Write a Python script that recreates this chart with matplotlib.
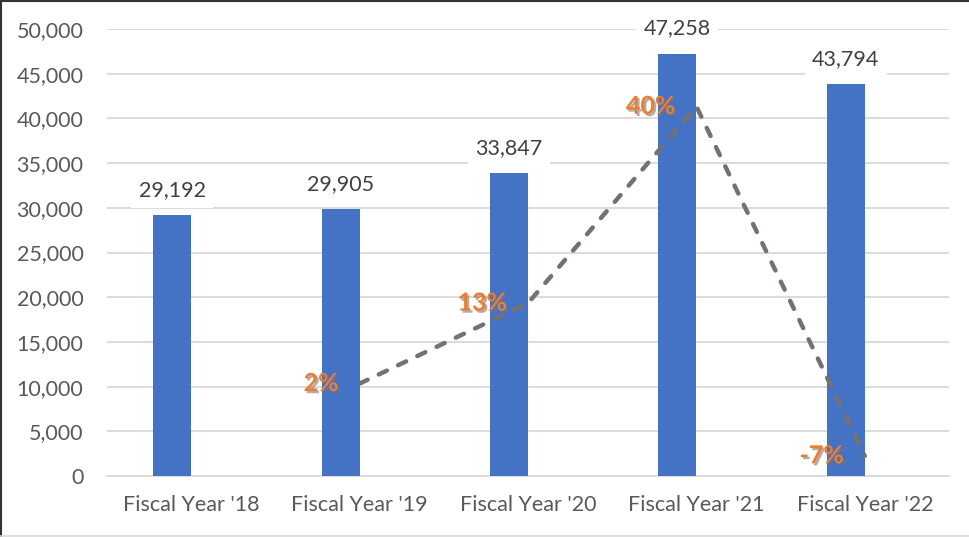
import matplotlib
matplotlib.use("Agg")
from matplotlib import pyplot as plt
from matplotlib import patheffects as pe
from matplotlib.lines import Line2D

plt.rcParams['font.family'] = ['Lato', 'DejaVu Sans']

years = ["Fiscal Year '18", "Fiscal Year '19", "Fiscal Year '20",
         "Fiscal Year '21", "Fiscal Year '22"]
revenue = [29192, 29905, 33847, 47258, 43794]
growth_years = [1, 2, 3, 4]
growth = [2.4, 13.2, 39.6, -7.3]
growth_labels = ["2%", "13%", "40%", "-7%"]

blue = "#4472C4"
orange = "#ED7D31"
line_gray = "#767171"
text_gray = "#595959"

fig = plt.figure(figsize=(9.69, 5.37), dpi=100)
ax = fig.add_axes([107 / 969, 1 - 476 / 537, 842 / 969, 447 / 537])

x = list(range(len(years)))
w = 0.226
bars = ax.bar([i - w / 2 for i in x], revenue, width=w, color=blue, zorder=3)

ax.set_xlim(-0.5, 4.5)
ax.set_ylim(0, 50000)
ax.set_yticks(range(0, 50001, 5000))
ax.set_yticklabels([f"{v:,}" for v in range(0, 50001, 5000)])
ax.set_xticks(x)
ax.set_xticklabels(years)
ax.tick_params(axis='both', length=0, labelsize=15.5, colors=text_gray)
ax.tick_params(axis='y', pad=17)
ax.tick_params(axis='x', pad=14)
ax.grid(axis='y', color="#D9D9D9", linewidth=1.3, zorder=0)
ax.set_axisbelow(True)
for s in ['top', 'right', 'left']:
    ax.spines[s].set_visible(False)
ax.spines['bottom'].set_color("#D9D9D9")
ax.spines['bottom'].set_linewidth(1.3)

for b, v in zip(bars, revenue):
    ax.annotate(f"{v:,}", (b.get_x() + b.get_width() / 2, v),
                xytext=(0, 25), textcoords='offset pixels',
                ha='center', va='center', fontsize=15.5, color="#404040",
                bbox=dict(boxstyle='square,pad=0.35', fc='white', ec='none'),
                zorder=5)

ax2 = ax.twinx()
ax2.set_ylim(-10, 50)
ax2.axis('off')
ax2.plot(growth_years, growth, color=line_gray, linewidth=3.2,
         dashes=(2.0, 2.8), dash_capstyle='round', zorder=4)

shadow = [pe.SimplePatchShadow(offset=(1.5, -1.5), shadow_rgbFace='#777777', alpha=0.6),
          pe.Normal()]
for gx, g, lab in zip(growth_years, growth, growth_labels):
    ax2.annotate(lab, (gx, g), xytext=(-21, 0), textcoords='offset pixels',
                 ha='right', va='center', fontsize=18, fontweight='bold',
                 color=orange, path_effects=shadow, zorder=6)

# chart border
fig.add_artist(Line2D([0, 1], [0.999, 0.999], color="#333333", linewidth=1.5,
                      transform=fig.transFigure))
fig.add_artist(Line2D([0.001, 0.001], [0, 1], color="#333333", linewidth=1.5,
                      transform=fig.transFigure))
fig.add_artist(Line2D([0, 1], [0.001, 0.001], color="#D9D9D9", linewidth=1.2,
                      transform=fig.transFigure))

fig.savefig("out.png", dpi=100)
plt.close(fig)
